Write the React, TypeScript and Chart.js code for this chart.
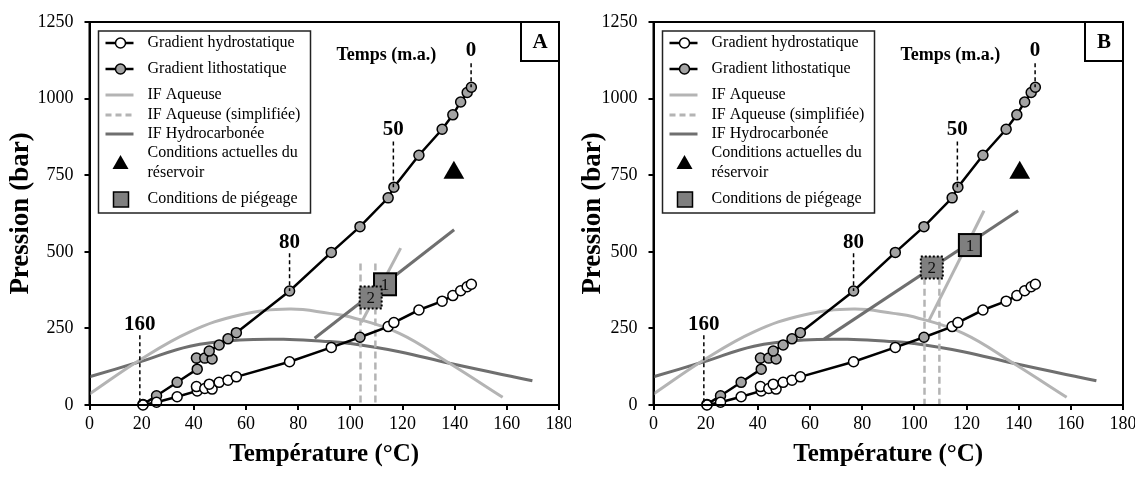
import React, { useEffect, useRef } from 'react';
import { Chart, registerables } from 'chart.js';
Chart.register(...registerables);

const SERIF = "'Liberation Serif', 'Times New Roman', serif";

// ---- shared data (both panels) ----
const tempSteps = [20.5, 25.7, 33.6, 41.3, 41.0, 44.2, 47.0, 45.9, 49.7, 53.1, 56.3, 76.7, 92.7, 103.7, 114.5, 116.7, 126.3, 135.2, 139.3, 142.3, 144.8, 146.4];
const lithoP = [2, 30, 74, 117, 153, 153, 150, 176, 196, 216, 236, 372, 498, 582, 676, 711, 815, 900, 947, 989, 1020, 1037];
const hydroP = [0, 9, 27, 46, 60, 54, 52, 68, 74, 81, 92, 141, 188, 221, 256, 269, 310, 339, 357, 373, 386, 394];
const hydroGreyIndex = 13;

const aqCurveT = [0, 19.3, 38.5, 57.6, 76.7, 92, 99.7, 118.8, 138, 158.4];
const aqCurveP = [36, 147, 239, 294, 313, 299, 288, 234, 136, 25];
const hcCurveT = [0, 19.3, 38.5, 57.6, 76.7, 92, 99.7, 118.8, 138, 169.8];
const hcCurveP = [92, 141, 192, 212, 214, 207, 201, 174, 136, 79];

const timeAges = ['160', '80', '50', '0'];
const timeTemps = [19.3, 76.7, 116.5, 146.3];
const timeLabelP = [264, 529, 900, 1156];
const timeLineTop = [228, 495, 860, 1115];
const timeLineBottom = [0, 372, 711, 1037];

const legendLabels = ['Gradient hydrostatique', 'Gradient lithostatique', 'IF Aqueuse', 'IF Aqueuse (simplifiée)', 'IF Hydrocarbonée', 'Conditions actuelles du', 'réservoir', 'Conditions de piégeage'];

// ---- panel A ----
const isoHcT_A = [86.3, 139.8];
const isoHcP_A = [218, 572];
const isoAqT_A = [104.3, 119.3];
const isoAqP_A = [270, 512];
const simplT_A = [103.9, 109.6];
const simplTop_A = 462;
const squaresT_A = [113.3, 107.8];
const squaresP_A = [394, 351];
const reservoirT_A = 139.7;
const reservoirP_A = 758;

// ---- panel B ----
const isoHcT_B = [65.4, 139.8];
const isoHcP_B = [215, 634];
const isoAqT_B = [105.4, 126.7];
const isoAqP_B = [272, 634];
const simplT_B = [103.9, 109.6];
const simplTop_B = 415;
const squaresT_B = [121.3, 106.7];
const squaresP_B = [522, 449];
const reservoirT_B = 140.4;
const reservoirP_B = 758;

const panels = [
  { id: 'A', isoHcT: isoHcT_A, isoHcP: isoHcP_A, isoAqT: isoAqT_A, isoAqP: isoAqP_A, simplT: simplT_A, simplTop: simplTop_A, sqT: squaresT_A, sqP: squaresP_A, resT: reservoirT_A, resP: reservoirP_A, titlePad: 5 },
  { id: 'B', isoHcT: isoHcT_B, isoHcP: isoHcP_B, isoAqT: isoAqT_B, isoAqP: isoAqP_B, simplT: simplT_B, simplTop: simplTop_B, sqT: squaresT_B, sqP: squaresP_B, resT: reservoirT_B, resP: reservoirP_B, titlePad: 13 },
];

const LIGHT = '#b4b4b4';
const DARK = '#6f6f6f';
const MARKER_GREY = '#a3a3a3';
const SQ_GREY = '#7f7f7f';

const pts = (xs: number[], ys: number[]) => xs.map((x, i) => ({ x, y: ys[i] }));

function buildConfig(p: any): any {
  const annot = {
    id: 'annot' + p.id,
    afterDatasetsDraw(chart: any) {
      const { ctx, scales } = chart;
      const xs = scales.x, ys = scales.y;
      ctx.save();
      for (let i = 0; i < timeAges.length; i++) {
        const px = xs.getPixelForValue(timeTemps[i]);
        ctx.strokeStyle = '#000';
        ctx.lineWidth = 1.5;
        ctx.setLineDash([4, 3]);
        ctx.beginPath();
        ctx.moveTo(px, ys.getPixelForValue(timeLineTop[i]));
        ctx.lineTo(px, ys.getPixelForValue(timeLineBottom[i]));
        ctx.stroke();
        ctx.setLineDash([]);
        ctx.fillStyle = '#000';
        ctx.font = `bold 21px ${SERIF}`;
        ctx.textAlign = 'center';
        ctx.textBaseline = 'middle';
        ctx.fillText(timeAges[i], px, ys.getPixelForValue(timeLabelP[i]));
      }
      ctx.font = `bold 18px ${SERIF}`;
      ctx.fillText('Temps (m.a.)', xs.getPixelForValue(113.8), ys.getPixelForValue(1142));
      const size = 22;
      for (let i = 0; i < p.sqT.length; i++) {
        const cx = xs.getPixelForValue(p.sqT[i]);
        const cy = ys.getPixelForValue(p.sqP[i]);
        ctx.fillStyle = SQ_GREY;
        ctx.fillRect(cx - size / 2, cy - size / 2, size, size);
        ctx.strokeStyle = '#000';
        ctx.lineWidth = 2;
        ctx.setLineDash(i === 1 ? [2, 2] : []);
        ctx.strokeRect(cx - size / 2, cy - size / 2, size, size);
        ctx.setLineDash([]);
        ctx.fillStyle = '#111';
        ctx.font = `17px ${SERIF}`;
        ctx.fillText(String(i + 1), cx, cy + 1);
      }
      ctx.restore();
    },
    afterDraw(chart: any) {
      const { ctx, chartArea: ca } = chart;
      ctx.save();
      ctx.strokeStyle = '#000';
      ctx.lineWidth = 2;
      ctx.strokeRect(ca.left, ca.top, ca.right - ca.left, ca.bottom - ca.top);
      const bw = 38, bh = 39;
      ctx.fillStyle = '#fff';
      ctx.fillRect(ca.right - bw, ca.top, bw, bh);
      ctx.strokeRect(ca.right - bw, ca.top, bw, bh);
      ctx.fillStyle = '#000';
      ctx.font = `bold 21px ${SERIF}`;
      ctx.textAlign = 'center';
      ctx.textBaseline = 'middle';
      ctx.fillText(p.id, ca.right - bw / 2, ca.top + bh / 2 + 1);
      const L = ca.left + 9, T = ca.top + 9, W = 212, H = 182;
      ctx.fillStyle = '#fff';
      ctx.fillRect(L, T, W, H);
      ctx.strokeStyle = '#222';
      ctx.lineWidth = 1.5;
      ctx.strokeRect(L, T, W, H);
      const sx = L + 22;
      const tx = L + 49;
      const rows = [ca.top + 21, ca.top + 47, ca.top + 73, ca.top + 93, ca.top + 112, ca.top + 131, ca.top + 151, ca.top + 177];
      const line = (y: number, color: string, w: number, dash: number[]) => {
        ctx.strokeStyle = color; ctx.lineWidth = w; ctx.setLineDash(dash);
        ctx.beginPath(); ctx.moveTo(sx - 15, y); ctx.lineTo(sx + 13, y); ctx.stroke();
        ctx.setLineDash([]);
      };
      const circ = (y: number, fill: string) => {
        ctx.beginPath(); ctx.arc(sx, y, 5, 0, Math.PI * 2);
        ctx.fillStyle = fill; ctx.fill(); ctx.strokeStyle = '#000'; ctx.lineWidth = 1.5; ctx.stroke();
      };
      line(rows[0], '#000', 2.5, []); circ(rows[0], '#fff');
      line(rows[1], '#000', 2.5, []); circ(rows[1], MARKER_GREY);
      line(rows[2], LIGHT, 3, []);
      line(rows[3], LIGHT, 3, [6, 4]);
      line(rows[4], DARK, 3, []);
      const ty = (rows[5] + rows[6]) / 2;
      ctx.fillStyle = '#000';
      ctx.beginPath(); ctx.moveTo(sx, ty - 8); ctx.lineTo(sx + 8, ty + 6); ctx.lineTo(sx - 8, ty + 6); ctx.closePath(); ctx.fill();
      ctx.fillStyle = SQ_GREY;
      ctx.fillRect(sx - 7, rows[7] - 7, 15, 15);
      ctx.strokeStyle = '#000'; ctx.lineWidth = 1.5;
      ctx.strokeRect(sx - 7, rows[7] - 7, 15, 15);
      ctx.fillStyle = '#000';
      ctx.font = `16px ${SERIF}`;
      ctx.textAlign = 'left';
      for (let i = 0; i < legendLabels.length; i++) ctx.fillText(legendLabels[i], tx, rows[i]);
      ctx.restore();
    },
  };

  const tickFont = { family: SERIF, size: 18 };
  const plain = (v: any) => String(v);

  return {
    type: 'scatter',
    data: {
      datasets: [
        { data: pts(tempSteps, hydroP), showLine: true, borderColor: '#000', borderWidth: 2.5, pointRadius: 5, pointBorderWidth: 1.5, pointBorderColor: '#000', pointBackgroundColor: hydroP.map((_, i) => (i === hydroGreyIndex ? MARKER_GREY : '#fff')), clip: false },
        { data: pts(tempSteps, lithoP), showLine: true, borderColor: '#000', borderWidth: 2.5, pointRadius: 5, pointBorderWidth: 1.5, pointBorderColor: '#000', pointBackgroundColor: MARKER_GREY, clip: false },
        { data: [{ x: p.resT, y: p.resP }], pointStyle: 'triangle', pointRadius: 12, pointBackgroundColor: '#000', pointBorderColor: '#000', pointBorderWidth: 0 },
        { data: pts(p.isoAqT, p.isoAqP), showLine: true, borderColor: LIGHT, borderWidth: 3, pointRadius: 0 },
        { data: pts(p.isoHcT, p.isoHcP), showLine: true, borderColor: DARK, borderWidth: 3, pointRadius: 0 },
        { data: [{ x: p.simplT[0], y: p.simplTop }, { x: p.simplT[0], y: 0 }], showLine: true, borderColor: LIGHT, borderWidth: 2.5, borderDash: [7, 4], pointRadius: 0 },
        { data: [{ x: p.simplT[1], y: p.simplTop }, { x: p.simplT[1], y: 0 }], showLine: true, borderColor: LIGHT, borderWidth: 2.5, borderDash: [7, 4], pointRadius: 0 },
        { data: pts(aqCurveT, aqCurveP), showLine: true, borderColor: LIGHT, borderWidth: 3, pointRadius: 0, tension: 0.4 },
        { data: pts(hcCurveT, hcCurveP), showLine: true, borderColor: DARK, borderWidth: 3, pointRadius: 0, tension: 0.4 },
      ],
    },
    options: {
      responsive: false,
      animation: false,
      devicePixelRatio: 1,
      layout: { padding: { left: 0, right: 11, top: 22, bottom: 0 } },
      plugins: { legend: { display: false }, tooltip: { enabled: false } },
      scales: {
        x: {
          type: 'linear', min: 0, max: 180,
          ticks: { stepSize: 20, font: tickFont, color: '#000', padding: 3, maxRotation: 0, callback: plain },
          grid: { display: true, drawOnChartArea: false, drawTicks: true, tickLength: 5, color: '#000', lineWidth: 2 },
          border: { display: true, color: '#000', width: 2 },
          title: { display: true, text: 'Température (°C)', font: { family: SERIF, size: 25, weight: 'bold' }, color: '#000', padding: { top: 0, bottom: 7 } },
          afterFit: (s: any) => { s.height = 72; s.paddingLeft = 0; s.paddingRight = 0; },
        },
        y: {
          type: 'linear', min: 0, max: 1250,
          ticks: { stepSize: 250, font: tickFont, color: '#000', padding: 11, callback: plain },
          grid: { display: true, drawOnChartArea: false, drawTicks: true, tickLength: 5, color: '#000', lineWidth: 2 },
          border: { display: true, color: '#000', width: 2 },
          title: { display: true, text: 'Pression (bar)', font: { family: SERIF, size: 27, weight: 'bold' }, color: '#000', padding: { top: p.titlePad, bottom: 0 } },
          afterFit: (s: any) => { s.width = 89.5; s.paddingTop = 0; s.paddingBottom = 0; },
        },
      },
    },
    plugins: [annot],
  };
}

function Panel({ cfg, left }: { cfg: any; left: number }) {
  const ref = useRef<HTMLCanvasElement>(null);
  useEffect(() => {
    const chart = new Chart(ref.current as HTMLCanvasElement, buildConfig(cfg));
    return () => chart.destroy();
  }, [cfg]);
  return <canvas ref={ref} width={571} height={477} style={{ position: 'absolute', left, top: 0, width: 571, height: 477 }} />;
}

export default function App() {
  return (
    <div style={{ position: 'fixed', left: 0, top: 0, width: 1142, height: 477, background: '#fff', overflow: 'hidden' }}>
      <Panel cfg={panels[0]} left={0} />
      <Panel cfg={panels[1]} left={563.5} />
    </div>
  );
}
